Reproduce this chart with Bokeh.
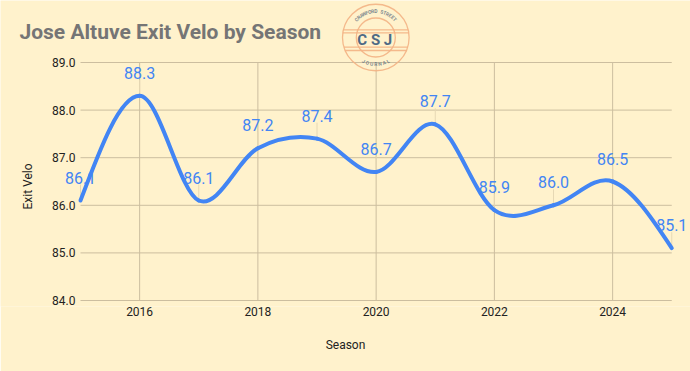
import math
from bokeh.plotting import figure
from bokeh.models import ColumnDataSource, LabelSet, FixedTicker, Range1d
from bokeh.core.properties import value
from bokeh.embed import file_html
from bokeh.resources import INLINE

# ---- data ----
seasons = [2015, 2016, 2017, 2018, 2019, 2020, 2021, 2022, 2023, 2024, 2025]
exit_velo = [86.1, 88.3, 86.1, 87.2, 87.4, 86.7, 87.7, 85.9, 86.0, 86.5, 85.1]
x_ticks = [2016, 2018, 2020, 2022, 2024]
y_ticks = [84, 85, 86, 87, 88, 89]
y_tick_labels = ["84.0", "85.0", "86.0", "87.0", "88.0", "89.0"]
title_text = "Jose Altuve Exit Velo by Season"

BG = "#FFF2CC"
BLUE = "#4285F4"
GRID = "#CCBE9F"
TXT = "#222222"

# ---- layout constants (pixels) ----
W, H = 690, 371
BASE = 300             # pixel row of y = 84
FRAME_B = 306          # pixel row of frame bottom
X0PX = 80              # pixel column of first season
XPX = 59.125           # pixels per season
YPX = 47.6             # pixels per unit of exit velo

x_lo = seasons[0] - X0PX / XPX
x_hi = seasons[0] + (W - X0PX) / XPX
y_lo = y_ticks[0] - (FRAME_B - BASE) / YPX
y_hi = y_ticks[0] + BASE / YPX


def px2x(px):
    return seasons[0] + (px - X0PX) / XPX


def py2y(py):
    return y_hi - py / YPX


p = figure(width=W, height=H, x_range=Range1d(x_lo, x_hi),
           y_range=Range1d(y_lo, y_hi), output_backend="svg",
           toolbar_location=None, y_axis_location=None,
           min_border_left=0, min_border_right=0,
           min_border_top=0, min_border_bottom=H - FRAME_B)
p.background_fill_color = BG
p.border_fill_color = BG
p.outline_line_color = None
p.grid.visible = False

# x axis (real axis)
ax = p.xaxis[0]
ax.ticker = FixedTicker(ticks=x_ticks)
ax.axis_line_color = None
ax.major_tick_line_color = None
ax.minor_tick_line_color = None
ax.major_label_text_font = "Roboto"
ax.major_label_text_font_size = "12px"
ax.major_label_text_color = TXT
ax.major_label_standoff = -6
ax.axis_label = "Season"
ax.axis_label_text_font = "Roboto"
ax.axis_label_text_font_size = "12px"
ax.axis_label_text_font_style = "normal"
ax.axis_label_text_color = TXT
ax.axis_label_standoff = 19

# grid lines limited to the chart area
p.segment(x0=[seasons[0]] * len(y_ticks), y0=y_ticks,
          x1=[seasons[-1]] * len(y_ticks), y1=y_ticks,
          line_color=GRID, line_width=1)
p.segment(x0=x_ticks, y0=[y_ticks[0]] * len(x_ticks), x1=x_ticks,
          y1=[y_ticks[-1]] * len(x_ticks), line_color=GRID, line_width=1)

# y tick labels and y axis title
p.text(x=[px2x(75)] * len(y_ticks), y=y_ticks, text=y_tick_labels,
       text_font=value("Roboto"), text_font_size="12px", text_color=TXT,
       text_align="right", text_baseline="middle")
p.text(x=[px2x(27)], y=[py2y(186)], text=["Exit Velo"], angle=math.pi / 2,
       text_font=value("Roboto"), text_font_size="12px", text_color=TXT,
       text_align="center", text_baseline="middle")

# ---- smooth line (cubic Hermite as bezier segments) ----
n = len(seasons)
m = [0.0] * n
for i in range(1, n - 1):
    m[i] = (exit_velo[i + 1] - exit_velo[i - 1]) / (seasons[i + 1] - seasons[i - 1])
m[0] = (3 * (exit_velo[1] - exit_velo[0]) - m[1]) / 2
m[-1] = (3 * (exit_velo[-1] - exit_velo[-2]) - m[-2]) / 2
bx0, by0, bx1, by1, cx0, cy0, cx1, cy1 = [], [], [], [], [], [], [], []
for i in range(n - 1):
    dx = seasons[i + 1] - seasons[i]
    bx0.append(seasons[i]); by0.append(exit_velo[i])
    bx1.append(seasons[i + 1]); by1.append(exit_velo[i + 1])
    cx0.append(seasons[i] + dx / 3); cy0.append(exit_velo[i] + m[i] * dx / 3)
    cx1.append(seasons[i + 1] - dx / 3); cy1.append(exit_velo[i + 1] - m[i + 1] * dx / 3)

# annotation stems
stem = 16 / YPX
p.segment(x0=seasons, y0=exit_velo, x1=seasons, y1=[v + stem for v in exit_velo],
          line_color="#E6D8B4", line_width=1)

p.bezier(x0=bx0, y0=by0, x1=bx1, y1=by1, cx0=cx0, cy0=cy0, cx1=cx1, cy1=cy1,
         line_color=BLUE, line_width=4, line_cap="round")

src = ColumnDataSource(dict(x=seasons, y=exit_velo,
                            t=["%.1f" % v for v in exit_velo]))
p.add_layout(LabelSet(x="x", y="y", text="t", source=src, y_offset=23,
                      text_align="center", text_baseline="middle",
                      text_font=value("Roboto"), text_font_size="16px",
                      text_color=BLUE))

# ---- title ----
p.text(x=[px2x(19)], y=[py2y(31)], text=[title_text],
       text_font=value("Roboto"), text_font_size="21px",
       text_font_style="bold", text_color="#757575",
       text_align="left", text_baseline="middle")

# ---- logo (decoration) ----
LOGO = "#F3B284"
cxp, cyp = 375.3, 37
p.circle(x=[px2x(cxp)], y=[py2y(cyp)], radius=33.3, radius_units="screen",
         fill_color=None, line_color=LOGO, line_width=1.3, line_alpha=0.9)
p.circle(x=[px2x(cxp)], y=[py2y(cyp)], radius=19.5, radius_units="screen",
         fill_color=None, line_color=LOGO, line_width=1.3, line_alpha=0.9)
for dy in (-7.7, -4.7, 9.7, 13):
    half = math.sqrt(max(33.3 ** 2 - dy ** 2, 0))
    p.segment(x0=[px2x(cxp - half)], y0=[py2y(cyp + dy)],
              x1=[px2x(cxp + half)], y1=[py2y(cyp + dy)],
              line_color=LOGO, line_width=1.3, line_alpha=0.9)
p.text(x=[px2x(cxp - 1)], y=[py2y(cyp + 2)], text=["C S J"],
       text_font=value("Roboto"), text_font_size="15px",
       text_font_style="bold", text_color="#4E6A84",
       text_align="center", text_baseline="middle")


def arc_text(s, r, a0, a1, top=True):
    xs, ys, ts, angs = [], [], [], []
    k = len(s)
    for j, ch in enumerate(s):
        a = a0 + (a1 - a0) * (j + 0.5) / k
        xs.append(px2x(cxp + r * math.cos(a)))
        ys.append(py2y(cyp - r * math.sin(a)))
        ts.append(ch)
        angs.append(a - math.pi / 2 if top else a + math.pi / 2)
    p.text(x=xs, y=ys, text=ts, angle=angs, text_font=value("Roboto"),
           text_font_size="5px", text_font_style="bold", text_color="#5E6F80",
           text_align="center", text_baseline="middle", text_alpha=0.8)


arc_text("CRAWFORD STREET", 26.5, math.radians(140), math.radians(40), True)
arc_text("JOURNAL", 26.5, math.radians(238), math.radians(302), False)

open("out.html", "w").write(file_html(p, INLINE))
